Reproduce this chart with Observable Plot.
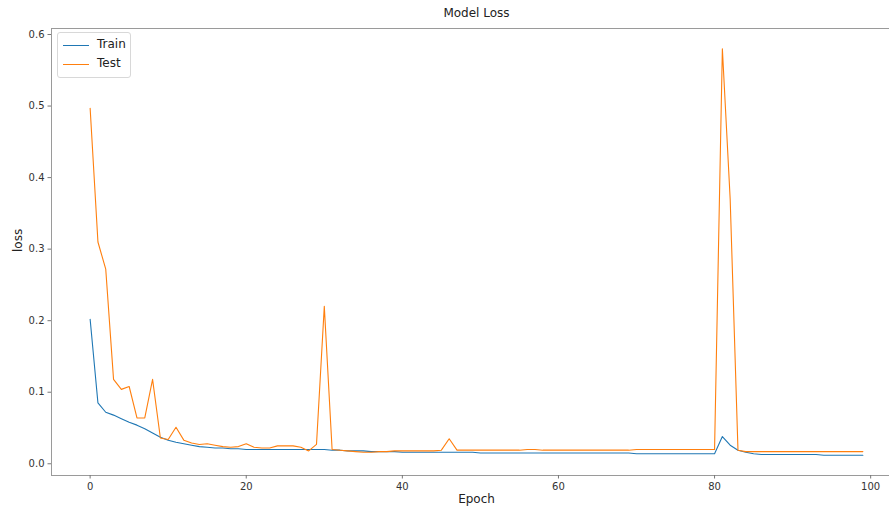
<!DOCTYPE html>
<html>
<head>
<meta charset="utf-8">
<script src="https://cdn.jsdelivr.net/npm/d3@7"></script>
<script src="https://cdn.jsdelivr.net/npm/@observablehq/plot@0.6"></script>
<style>
  html, body { margin: 0; padding: 0; background: #fff; overflow: hidden; }
  #wrap { position: relative; width: 889px; height: 515px; overflow: hidden; font-family: "DejaVu Sans", sans-serif; }
  #wrap svg { overflow: hidden; }
  .legend { position: absolute; left: 57px; top: 32px; width: 72px; height: 44px; border: 1px solid #d8d8d8; border-radius: 3px; background: rgba(255,255,255,0.85); font-size: 12px; color: #222; }
  .legend .row { position: absolute; left: 0; height: 16px; }
  .legend .sw { position: absolute; left: 5px; width: 26px; height: 0; border-top: 1.3px solid; }
  .legend .lab { position: absolute; left: 39px; top: -8px; white-space: nowrap; }
</style>
</head>
<body>
<div id="wrap"></div>
<script>
const epochs = d3.range(100);
const seriesNames = ["Train", "Test"];
const seriesColors = ["#1f77b4", "#ff7f0e"];
const xTicks = [0, 20, 40, 60, 80, 100];
const yTicks = [0.0, 0.1, 0.2, 0.3, 0.4, 0.5, 0.6];

const trainLoss = [
  0.202, 0.085, 0.072, 0.068, 0.063, 0.058, 0.054, 0.049, 0.043, 0.037,
  0.033, 0.030, 0.028, 0.026, 0.024, 0.023, 0.022, 0.022, 0.021, 0.021,
  0.020, 0.020, 0.020, 0.020, 0.020, 0.020, 0.020, 0.020, 0.020, 0.020,
  0.020, 0.019, 0.019, 0.018, 0.018, 0.018, 0.017, 0.017, 0.017, 0.017,
  0.016, 0.016, 0.016, 0.016, 0.016, 0.016, 0.016, 0.016, 0.016, 0.016,
  0.015, 0.015, 0.015, 0.015, 0.015, 0.015, 0.015, 0.015, 0.015, 0.015,
  0.015, 0.015, 0.015, 0.015, 0.015, 0.015, 0.015, 0.015, 0.015, 0.015,
  0.014, 0.014, 0.014, 0.014, 0.014, 0.014, 0.014, 0.014, 0.014, 0.014,
  0.014, 0.038, 0.026, 0.019, 0.016, 0.014, 0.013, 0.013, 0.013, 0.013,
  0.013, 0.013, 0.013, 0.013, 0.012, 0.012, 0.012, 0.012, 0.012, 0.012
];

const testLoss = [
  0.497, 0.310, 0.272, 0.118, 0.104, 0.108, 0.064, 0.064, 0.118, 0.036,
  0.034, 0.051, 0.033, 0.029, 0.027, 0.028, 0.026, 0.024, 0.023, 0.024,
  0.028, 0.023, 0.022, 0.022, 0.025, 0.025, 0.025, 0.023, 0.018, 0.027,
  0.220, 0.020, 0.019, 0.018, 0.017, 0.016, 0.016, 0.017, 0.017, 0.018,
  0.018, 0.018, 0.018, 0.018, 0.018, 0.019, 0.035, 0.019, 0.019, 0.019,
  0.019, 0.019, 0.019, 0.019, 0.019, 0.019, 0.020, 0.020, 0.019, 0.019,
  0.019, 0.019, 0.019, 0.019, 0.019, 0.019, 0.019, 0.019, 0.019, 0.019,
  0.020, 0.020, 0.020, 0.020, 0.020, 0.020, 0.020, 0.020, 0.020, 0.020,
  0.020, 0.580, 0.370, 0.019, 0.017, 0.017, 0.017, 0.017, 0.017, 0.017,
  0.017, 0.017, 0.017, 0.017, 0.017, 0.017, 0.017, 0.017, 0.017, 0.017
];

const rows = [];
epochs.forEach((e, i) => {
  rows.push({epoch: e, loss: trainLoss[i], series: "Train"});
});
epochs.forEach((e, i) => {
  rows.push({epoch: e, loss: testLoss[i], series: "Test"});
});

const chart = Plot.plot({
  width: 889,
  height: 515,
  marginTop: 28,
  marginBottom: 40,
  marginLeft: 51,
  marginRight: -12,
  style: {fontFamily: "DejaVu Sans, sans-serif", background: "#fff", color: "#222"},
  x: {domain: [-4.95, 103.95]},
  y: {domain: [-0.0164, 0.6084]},
  color: {domain: seriesNames, range: seriesColors},
  marks: [
    Plot.frame({stroke: "#9a9a9a", strokeWidth: 1}),
    Plot.axisX({ticks: xTicks, tickFormat: d => String(d), tickSize: 3.5, tickPadding: 3.5, fontSize: 10, label: null, stroke: "#777", fill: "#333"}),
    Plot.axisY({ticks: yTicks, tickFormat: ".1f", tickSize: 3.5, tickPadding: 3.5, fontSize: 10, label: null, stroke: "#777", fill: "#333"}),
    Plot.line(rows, {x: "epoch", y: "loss", z: "series", stroke: "series", strokeWidth: 1.1}),
    Plot.text(["Model Loss"], {frameAnchor: "top", dy: -20, fontSize: 12, fill: "#222"}),
    Plot.text(["Epoch"], {frameAnchor: "bottom", dy: 27, fontSize: 12, fill: "#222"}),
    Plot.text(["loss"], {frameAnchor: "left", dx: -33, rotate: -90, fontSize: 12, fill: "#222"})
  ]
});

const wrap = document.getElementById("wrap");
wrap.appendChild(chart);

const legend = document.createElement("div");
legend.className = "legend";
seriesNames.forEach((name, i) => {
  const row = document.createElement("div");
  row.className = "row";
  row.style.top = (12 + i * 19) + "px";
  const sw = document.createElement("div");
  sw.className = "sw";
  sw.style.borderTopColor = seriesColors[i];
  const lab = document.createElement("div");
  lab.className = "lab";
  lab.textContent = name;
  row.appendChild(sw);
  row.appendChild(lab);
  legend.appendChild(row);
});
wrap.appendChild(legend);
</script>
</body>
</html>
